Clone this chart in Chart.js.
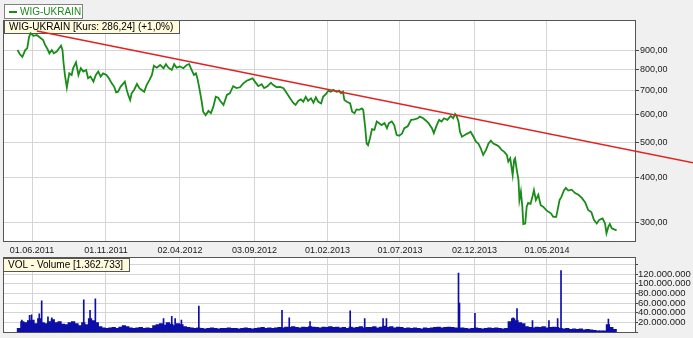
<!DOCTYPE html>
<html><head><meta charset="utf-8">
<script src="https://cdn.jsdelivr.net/npm/chart.js@4.4.1/dist/chart.umd.min.js"></script>
<style>
html,body{margin:0;padding:0;background:#f0f0f0;}
#wrap{position:relative;width:693px;height:338px;overflow:hidden;}
canvas{position:absolute;left:0;top:0;}
</style></head><body>
<div id="wrap"><canvas id="main" width="693" height="338"></canvas><canvas id="vol" width="693" height="338"></canvas></div>
<script>
// ---------- data ----------
const seriesName = 'WIG-UKRAIN';
const quoteText = 'WIG-UKRAIN [Kurs: 286,24] (+1,0%)';
const volumeText = 'VOL - Volume [1.362.733]';

const xTickDates  = ['2011-06-01','2011-11-01','2012-04-02','2012-09-03','2013-02-01','2013-07-01','2013-12-02','2014-05-01'];
const xTickLabels = ['01.06.2011','01.11.2011','02.04.2012','03.09.2012','01.02.2013','01.07.2013','02.12.2013','01.05.2014'];
const priceTicks  = [300, 400, 500, 600, 700, 800, 900];
const volumeTicks = [0, 20e6, 40e6, 60e6, 80e6, 100e6, 120e6, 140e6];

const priceDates = [
'2011-05-02','2011-05-07','2011-05-12','2011-05-18','2011-05-22','2011-05-26','2011-05-29','2011-06-04','2011-06-11','2011-06-18',
'2011-06-24','2011-06-28','2011-07-03','2011-07-07','2011-07-12','2011-07-16','2011-07-22','2011-07-27','2011-07-31','2011-08-03',
'2011-08-05','2011-08-08','2011-08-12','2011-08-17','2011-08-22','2011-08-25','2011-08-31','2011-09-05','2011-09-10','2011-09-15',
'2011-09-21','2011-09-25','2011-09-30','2011-10-06','2011-10-11','2011-10-16','2011-10-21','2011-10-26','2011-11-02','2011-11-07',
'2011-11-13','2011-11-18','2011-11-22','2011-11-26','2011-12-01','2011-12-07','2011-12-10','2011-12-14','2011-12-17','2011-12-21',
'2011-12-24','2011-12-29','2012-01-04','2012-01-09','2012-01-14','2012-01-19','2012-01-24','2012-01-30','2012-02-04','2012-02-08',
'2012-02-14','2012-02-21','2012-02-28','2012-03-04','2012-03-09','2012-03-16','2012-03-21','2012-03-26','2012-04-02','2012-04-09',
'2012-04-16','2012-04-21','2012-04-26','2012-05-01','2012-05-05','2012-05-08','2012-05-12','2012-05-17','2012-05-20','2012-05-25',
'2012-05-31','2012-06-05','2012-06-10','2012-06-15','2012-06-20','2012-06-24','2012-07-01','2012-07-08','2012-07-14','2012-07-21',
'2012-07-28','2012-08-04','2012-08-11','2012-08-18','2012-08-25','2012-08-30','2012-09-04','2012-09-11','2012-09-18','2012-09-23',
'2012-09-30','2012-10-07','2012-10-12','2012-10-19','2012-10-26','2012-11-02','2012-11-09','2012-11-16','2012-11-22','2012-11-27',
'2012-12-03','2012-12-08','2012-12-13','2012-12-18','2012-12-23','2012-12-29','2013-01-03','2013-01-08','2013-01-13','2013-01-19',
'2013-01-23','2013-01-30','2013-02-03','2013-02-08','2013-02-13','2013-02-20','2013-02-25','2013-03-01','2013-03-05','2013-03-08',
'2013-03-13','2013-03-20','2013-03-24','2013-03-29','2013-04-02','2013-04-07','2013-04-13','2013-04-16','2013-04-20','2013-04-23',
'2013-04-26','2013-04-30','2013-05-04','2013-05-09','2013-05-14','2013-05-19','2013-05-24','2013-05-30','2013-06-04','2013-06-08',
'2013-06-14','2013-06-19','2013-06-24','2013-06-29','2013-07-05','2013-07-10','2013-07-17','2013-07-24','2013-07-31','2013-08-07',
'2013-08-11','2013-08-18','2013-08-24','2013-08-29','2013-09-05','2013-09-09','2013-09-15','2013-09-20','2013-09-25','2013-09-30',
'2013-10-07','2013-10-14','2013-10-19','2013-10-23','2013-10-26','2013-10-30','2013-11-02','2013-11-06','2013-11-12','2013-11-19',
'2013-11-24','2013-11-30','2013-12-05','2013-12-10','2013-12-15','2013-12-20','2013-12-26','2013-12-31','2014-01-05','2014-01-10',
'2014-01-17','2014-01-22','2014-01-27','2014-02-01','2014-02-07','2014-02-10','2014-02-14','2014-02-17','2014-02-19','2014-02-22',
'2014-02-24','2014-02-27','2014-03-03','2014-03-05','2014-03-08','2014-03-11','2014-03-13','2014-03-17','2014-03-20','2014-03-23',
'2014-03-28','2014-04-01','2014-04-04','2014-04-08','2014-04-13','2014-04-18','2014-04-23','2014-04-29','2014-05-04','2014-05-09',
'2014-05-14','2014-05-20','2014-05-23','2014-05-27','2014-05-31','2014-06-05','2014-06-09','2014-06-14','2014-06-21','2014-06-28',
'2014-07-05','2014-07-12','2014-07-19','2014-07-25','2014-08-01','2014-08-06','2014-08-12','2014-08-17','2014-08-24','2014-08-29',
'2014-09-01','2014-09-05','2014-09-08','2014-09-12','2014-09-17','2014-09-22'];
const priceValues = [
904,880,866,904,914,984,1006,990,995,978,
964,934,910,885,904,885,895,914,930,904,
839,771,711,779,771,805,836,771,805,788,
796,755,763,739,771,788,763,779,771,755,
731,715,690,693,715,731,739,701,679,657,
686,701,728,709,701,693,723,747,771,818,
808,822,805,826,808,796,826,808,814,805,
822,826,796,771,779,755,709,650,610,597,
613,604,630,671,667,654,637,679,686,718,
709,713,731,743,750,755,739,718,727,709,
718,734,723,713,715,709,686,664,646,637,
654,660,650,671,654,664,646,669,650,643,
671,686,698,693,701,693,698,686,693,657,
650,643,610,604,619,617,623,617,553,498,
493,515,546,543,573,567,560,567,549,567,
573,560,526,523,530,549,556,579,581,585,
591,585,576,567,549,532,560,579,573,585,
579,594,585,601,594,573,537,520,526,532,
537,520,504,498,483,463,478,498,507,498,
493,488,478,473,463,444,453,425,407,448,
453,425,395,347,366,333,298,299,333,341,
339,355,370,347,359,336,333,326,322,319,
312,312,326,347,355,369,375,369,371,363,
359,352,342,326,321,306,299,306,309,299,
281,293,298,290,288,286.24];

const trendDates  = ['2011-06-11','2015-03-05'];
const trendValues = [1021, 439];

// typical daily volume per week (millions), weeks starting 2011-05-02
const volWeekStart = '2011-05-02';
const volWeeklyM = [
8, 22,20,24, 25,18,28, 20,18,22, 26,20,22, 17,16,20, 22,18,14, 20,16,28, 24,20,
12,9,8, 9,10,8,11, 14,12, 9,8,9,10,8,9,8,
14,16,18,15,20,17,14,18,16, 12,10,9,
8,9,8,7,8,9,8,7,8,8,9,8,
8,7,8,9,8,7,8,9,10,8,9,8,9,
10,9,11,10,12,10,9,11,10,12,11,10,9,11,10,12,10,11,
9,10,8,11,9,10,12,9,10,
10,12,9,11,13,10,12,9,11,10,
8,9,8,9,8,7,9,8,9,
10,11,9,10,11,10,9,
8,9,8,7,8,9,8,7,8,9,8,9,8,7,8,
22,28,24,20,18,
12,10,9,11,10,12,9,10,11,10,
8,7,8,6,7,6,7,5,6,5,
4,3,3,3,
16,10,6];

// single high-volume days (millions)
const spikeDates = ['2011-05-11','2011-05-27','2011-05-31','2011-06-16','2011-06-21','2011-07-04','2011-07-12','2011-09-16','2011-09-29','2011-10-10',
'2012-02-28','2012-03-16','2012-03-23','2012-04-05','2012-05-11','2012-10-30','2012-11-14','2012-12-27','2013-03-20','2013-04-19',
'2013-05-27','2013-06-03','2013-10-30','2013-11-01','2013-12-03','2014-02-20','2014-02-28','2014-04-01','2014-05-05','2014-05-23',
'2014-05-30','2014-09-05'];
const spikeValuesM = [25,35,36,38,65,32,30,67,45,69,
28,33,28,25,54,45,30,22,44,28,
28,28,122,60,39,30,49,24,24,28,
127,27];

// ---------- helpers ----------
const dayNum = s => { const [y,m,d] = s.split('-').map(Number); return Date.UTC(y, m-1, d) / 864e5; };
const FONT = '"Liberation Sans", Arial, sans-serif';
const GRID = '#d5d5d5';
const TEXT = '#1a1a1a';
const xMin = dayNum('2011-04-02'), xMax = dayNum('2014-10-30');
const fmtPrice = v => Number(v).toFixed(2).replace('.', ',');
const fmtVol = v => String(Math.round(v)).replace(/\B(?=(\d{3})+(?!\d))/g, '.');

function xScale(extra) {
  return Object.assign({
    type: 'linear', min: xMin, max: xMax, offset: false,
    afterBuildTicks: s => { s.ticks = xTickDates.map(d => ({ value: dayNum(d) })); },
    grid: { color: GRID, drawTicks: false, offset: false },
    border: { display: false }
  }, extra);
}

function panelPlugin(cfg) {
  return {
    id: 'panel',
    beforeDraw(chart) {
      const c = chart.ctx, a = chart.chartArea;
      c.save();
      if (cfg.bg) { c.fillStyle = '#f0f0f0'; c.fillRect(0, 0, chart.width, chart.height); }
      c.fillStyle = '#ffffff';
      c.fillRect(a.left, a.top, a.right - a.left, a.bottom - a.top);
      if (cfg.legend) {
        c.fillStyle = '#ffffff'; c.fillRect(4, 4, 78, 14);
        c.strokeStyle = '#808080'; c.lineWidth = 1; c.strokeRect(4.5, 4.5, 78, 14);
        c.strokeStyle = '#1a8c1a'; c.lineWidth = 2;
        c.beginPath(); c.moveTo(9, 12); c.lineTo(17, 12); c.stroke();
        c.fillStyle = '#1a8c1a'; c.font = '10px ' + FONT; c.textBaseline = 'middle'; c.textAlign = 'left';
        c.fillText(seriesName, 20, 12);
      }
      c.restore();
    },
    beforeDatasetsDraw(chart) {
      const c = chart.ctx, a = chart.chartArea;
      c.save();
      c.strokeStyle = '#555555'; c.lineWidth = 1;
      c.strokeRect(Math.floor(a.left) + 0.5, Math.floor(a.top) + 0.5, Math.round(a.right - a.left), Math.round(a.bottom - a.top));
      const b = cfg.box;
      c.font = '10px ' + FONT;
      const w = Math.ceil(c.measureText(b.text).width) + 10;
      c.fillStyle = '#fffbdc'; c.fillRect(b.x, b.y, w, 13);
      c.strokeStyle = '#555555'; c.strokeRect(b.x + 0.5, b.y + 0.5, w, 13);
      c.fillStyle = '#000000'; c.textBaseline = 'middle'; c.textAlign = 'left';
      c.fillText(b.text, b.x + 5, b.y + 7);
      c.restore();
    }
  };
}

// ---------- price chart ----------
new Chart(document.getElementById('main'), {
  type: 'line',
  data: { datasets: [
    { data: trendDates.map((d, i) => ({ x: dayNum(d), y: trendValues[i] })),
      borderColor: '#e02222', borderWidth: 1.6, pointRadius: 0, clip: false, order: 0 },
    { data: priceDates.map((d, i) => ({ x: dayNum(d), y: priceValues[i] })),
      borderColor: '#1a8c1a', borderWidth: 1.8, pointRadius: 0, tension: 0, order: 1 }
  ]},
  options: {
    responsive: false, animation: false, devicePixelRatio: 1,
    layout: { padding: { left: 3, top: 20, right: 0, bottom: 81 } },
    plugins: { legend: { display: false }, tooltip: { enabled: false } },
    scales: {
      x: xScale({ position: 'bottom',
        ticks: { autoSkip: false, maxRotation: 0, padding: 4, color: TEXT, font: { family: FONT, size: 9 },
                 callback: (v, i) => xTickLabels[i] },
        afterFit: s => { s.height = 16; } }),
      y: { type: 'logarithmic', position: 'right', min: 267.4, max: 1095,
        afterBuildTicks: s => { s.ticks = priceTicks.map(v => ({ value: v })); },
        grid: { color: GRID, tickColor: '#444', tickLength: 4 },
        border: { display: false },
        ticks: { autoSkip: false, padding: 1, color: TEXT, font: { family: FONT, size: 9 }, callback: v => fmtPrice(v) },
        afterFit: s => { s.width = 58; } }
    }
  },
  plugins: [panelPlugin({ bg: true, legend: true, box: { x: 4, y: 20, text: quoteText } })]
});

// ---------- volume chart ----------
const weekStart = dayNum(volWeekStart);
new Chart(document.getElementById('vol'), {
  type: 'bar',
  data: { datasets: [
    { data: volWeeklyM.map((v, i) => ({ x: weekStart + 7 * i + 3, y: v * 1e6 })),
      backgroundColor: '#0d0da8', barThickness: 3.6, grouped: false },
    { data: spikeDates.map((d, i) => ({ x: dayNum(d), y: spikeValuesM[i] * 1e6 })),
      backgroundColor: '#0d0da8', barThickness: 1, grouped: false }
  ]},
  options: {
    responsive: false, animation: false, devicePixelRatio: 1,
    layout: { padding: { left: 3, top: 257, right: 0, bottom: 3.5 } },
    plugins: { legend: { display: false }, tooltip: { enabled: false } },
    scales: {
      x: xScale({ ticks: { display: false }, afterFit: s => { s.height = 0; } }),
      y: { type: 'linear', position: 'right', min: 0, max: 155e6,
        afterBuildTicks: s => { s.ticks = volumeTicks.map(v => ({ value: v })); },
        grid: { color: GRID, tickColor: '#444', tickLength: 3 },
        border: { display: false },
        ticks: { autoSkip: false, padding: 0, color: TEXT, font: { family: FONT, size: 9.5 },
                 callback: v => (v > 0 && v <= 120e6) ? fmtVol(v) : '' },
        afterFit: s => { s.width = 58; } }
    }
  },
  plugins: [panelPlugin({ bg: false, legend: false, box: { x: 3, y: 258, text: volumeText } })]
});
</script>
</body></html>
